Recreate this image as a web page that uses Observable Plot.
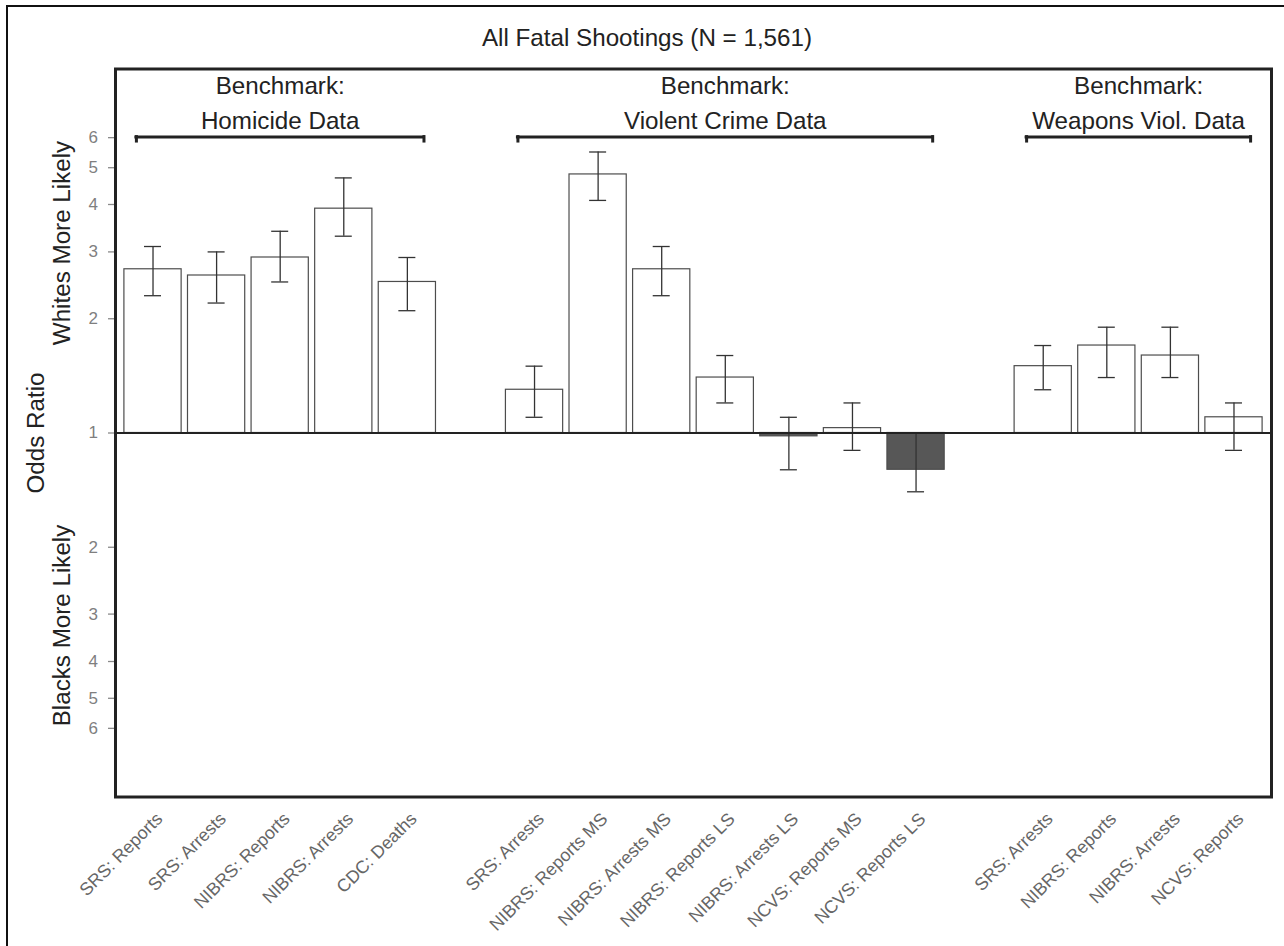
<!DOCTYPE html>
<html>
<head>
<meta charset="utf-8">
<script src="https://cdn.jsdelivr.net/npm/d3@7"></script>
<script src="https://cdn.jsdelivr.net/npm/@observablehq/plot@0.6"></script>
<style>
html, body { margin: 0; padding: 0; background: #fff; }
#wrap { position: relative; width: 1284px; height: 946px; overflow: hidden; }
#outer { position: absolute; left: 6px; top: 5px; width: 1400px; height: 1100px; border: 2px solid #111; pointer-events: none; }
</style>
</head>
<body>
<div id="wrap"></div>
<script>
const title = "All Fatal Shootings (N = 1,561)";
const categories = [
  "SRS: Reports", "SRS: Arrests", "NIBRS: Reports", "NIBRS: Arrests", "CDC: Deaths",
  "SRS: Arrests", "NIBRS: Reports MS", "NIBRS: Arrests MS", "NIBRS: Reports LS", "NIBRS: Arrests LS", "NCVS: Reports MS", "NCVS: Reports LS",
  "SRS: Arrests", "NIBRS: Reports", "NIBRS: Arrests", "NCVS: Reports"
];
const groups = [
  "Homicide Data", "Homicide Data", "Homicide Data", "Homicide Data", "Homicide Data",
  "Violent Crime Data", "Violent Crime Data", "Violent Crime Data", "Violent Crime Data", "Violent Crime Data", "Violent Crime Data", "Violent Crime Data",
  "Weapons Viol. Data", "Weapons Viol. Data", "Weapons Viol. Data", "Weapons Viol. Data"
];
const odds  = [2.7, 2.6, 2.9, 3.9, 2.5,  1.3, 4.8, 2.7, 1.4, 0.98, 1.03, 0.8,  1.5, 1.7, 1.6, 1.1];
const lower = [2.3, 2.2, 2.5, 3.3, 2.1,  1.1, 4.1, 2.3, 1.2, 0.8,  0.9,  0.7,  1.3, 1.4, 1.4, 0.9];
const upper = [3.1, 3.0, 3.4, 4.7, 2.9,  1.5, 5.5, 3.1, 1.6, 1.1,  1.2,  1.0,  1.7, 1.9, 1.9, 1.2];
const benchmarkNames = ["Homicide Data", "Violent Crime Data", "Weapons Viol. Data"];
const benchmarkPrefix = "Benchmark:";
const yTicks = [1/6, 1/5, 1/4, 1/3, 1/2, 1, 2, 3, 4, 5, 6];
const yAxisTitle = "Odds Ratio";
const upperTitle = "Whites More Likely";
const lowerTitle = "Blacks More Likely";

const rows = categories.map((label, i) => ({
  id: "c" + i, label, group: groups[i], odds: odds[i], lower: lower[i], upper: upper[i]
}));
const domain = [];
rows.forEach((r, i) => {
  if (i > 0 && r.group !== rows[i - 1].group) domain.push("gap" + i);
  domain.push(r.id);
});

const FONT = "'Liberation Sans', Arial, Helvetica, sans-serif";
const layout = {width: 1284, height: 946, marginTop: 68.5, marginRight: 13, marginBottom: 149.5, marginLeft: 115};
const frameW = layout.width - layout.marginLeft - layout.marginRight;
const xOpts = {domain, paddingInner: 0.1, paddingOuter: 0.14, round: false, axis: null};
const yOpts = {type: "log", domain: [1 / 9.1, 9.1], axis: null};

// probe to get band geometry
const probe = Plot.plot({...layout, x: xOpts, y: yOpts, marks: [Plot.barY(rows, {x: "id", y1: 1, y2: "odds"})]});
const xs = probe.scale("x");
const bw = xs.bandwidth;
const step = xs.step;

const groupInfo = benchmarkNames.map(name => {
  const idx = rows.map((r, i) => r.group === name ? i : -1).filter(i => i >= 0);
  const first = idx[0], last = idx[idx.length - 1];
  const c = (first + last) / 2;
  return {name, first: rows[first].id, last: rows[last].id,
          centerId: rows[Math.floor(c)].id, centerDx: (c % 1) ? step / 2 : 0,
          text: benchmarkPrefix + "\n" + name};
});

const bracketY = 6.02, bracketTickY = 5.86, bracketInset = 12;
const fmtTick = d => d >= 1 ? String(Math.round(d)) : String(Math.round(1 / d));
const BIG = 24.2;

const marks = [
  Plot.barY(rows, {x: "id", y1: 1, y2: "odds", fill: d => d.odds < 1 ? "#575757" : "#fff", stroke: "#4d4d4d", strokeWidth: 1.2}),
  Plot.ruleX(rows, {x: "id", y1: "lower", y2: "upper", stroke: "#333", strokeWidth: 1.3}),
  Plot.tickY(rows, {x: "id", y: "upper", inset: (bw - 17) / 2, stroke: "#333", strokeWidth: 1.3}),
  Plot.tickY(rows, {x: "id", y: "lower", inset: (bw - 17) / 2, stroke: "#333", strokeWidth: 1.3}),
  Plot.ruleY([1], {stroke: "#222", strokeWidth: 2.2}),
  // y ticks and labels
  Plot.ruleY(yTicks, {y: d => d, insetLeft: -7, insetRight: frameW, stroke: "#8a8a8a", strokeWidth: 1.3}),
  Plot.text(yTicks, {y: d => d, text: fmtTick, frameAnchor: "left", textAnchor: "end", lineAnchor: "middle",
                     dx: -17.5, fontSize: 17, fill: "#7f7f7f"}),
  Plot.frame({stroke: "#222", strokeWidth: 3}),
  // brackets
  Plot.ruleY(groupInfo, {x1: "first", x2: "last", y: () => bracketY, insetLeft: bracketInset, insetRight: bracketInset,
                         stroke: "#222", strokeWidth: 3, strokeLinecap: "square"}),
  Plot.ruleX(groupInfo, {x: "first", y1: () => bracketY, y2: () => bracketTickY, dx: -(bw / 2 - bracketInset),
                         stroke: "#222", strokeWidth: 3, strokeLinecap: "square"}),
  Plot.ruleX(groupInfo, {x: "last", y1: () => bracketY, y2: () => bracketTickY, dx: (bw / 2 - bracketInset),
                         stroke: "#222", strokeWidth: 3, strokeLinecap: "square"}),
  ...groupInfo.map(g => Plot.text([g], {x: "centerId", text: "text", frameAnchor: "top", textAnchor: "middle", dx: g.centerDx, dy: 59.8,
                         lineAnchor: "bottom", lineHeight: 35 / BIG, fontSize: BIG, fill: "#222"})),
  // x labels
  Plot.text(rows, {x: "id", text: "label", frameAnchor: "bottom", rotate: -45, textAnchor: "end", lineAnchor: "middle",
                   dx: 6.5, dy: 19, fontSize: 17.8, fill: "#666"}),
  // titles
  Plot.text([title], {frameAnchor: "top", textAnchor: "middle", dx: 646.5 - (115 + 1271) / 2, dy: 45 - 68.5, lineAnchor: "bottom", fontSize: BIG, fill: "#222"}),
  Plot.text([yAxisTitle], {frameAnchor: "left", textAnchor: "middle", rotate: -90, dx: -79, fontSize: BIG, fill: "#222"}),
  Plot.text([upperTitle], {frameAnchor: "left", textAnchor: "middle", rotate: -90, dx: -53, dy: -190, fontSize: BIG, fill: "#222"}),
  Plot.text([lowerTitle], {frameAnchor: "left", textAnchor: "middle", rotate: -90, dx: -53, dy: 192.5, fontSize: BIG, fill: "#222"})
];

const chart = Plot.plot({
  ...layout,
  style: {fontFamily: FONT, background: "transparent", overflow: "visible"},
  x: xOpts,
  y: yOpts,
  marks
});
const wrap = document.getElementById("wrap");
wrap.appendChild(chart);
const outer = document.createElement("div");
outer.id = "outer";
wrap.appendChild(outer);
</script>
</body>
</html>
